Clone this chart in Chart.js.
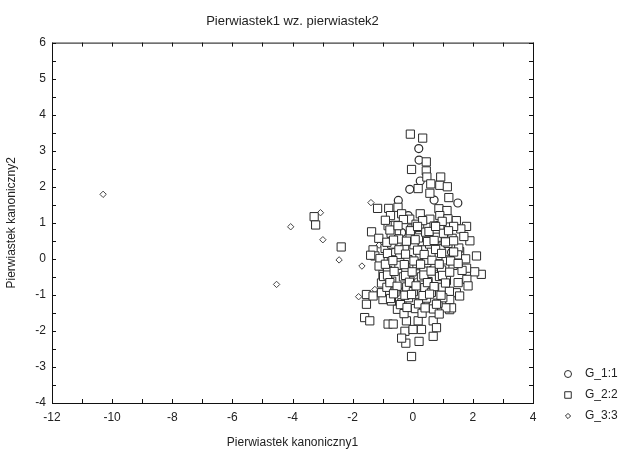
<!DOCTYPE html>
<html>
<head>
<meta charset="utf-8">
<script src="https://cdn.jsdelivr.net/npm/chart.js@4.4.1/dist/chart.umd.min.js"></script>
<style>
  html, body { margin: 0; padding: 0; background: #fff; }
  #wrap { width: 633px; height: 452px; }
</style>
</head>
<body>
<div id="wrap"><canvas id="scatterChart" width="633" height="452"></canvas></div>
<script>
// tick labels
var xTicks = [-12, -10, -8, -6, -4, -2, 0, 2, 4];
var yTicks = [-4, -3, -2, -1, 0, 1, 2, 3, 4, 5, 6];
var groupNames = ["G_1:1", "G_2:2", "G_3:3"];

// G_1 (circles)
var g1Points = [[0.2,3.06],[0.21,2.74],[0.25,2.16],[-0.1,1.93],[0.71,1.63],[1.5,1.55],[-0.48,1.62],
  [-0.37,0.73],[1.29,0.18],[0.05,0.42],[0.62,-0.32],[-0.28,-0.9],[0.92,0.55],[-0.62,0.18],
  [0.42,-1.22],[1.1,-0.6],[-0.15,1.2]];

// G_2 (squares)
var g2Points = [[-3.28,1.17],[-3.23,0.94],[-2.38,0.33],
  [-0.08,3.46],[0.33,3.35],[0.45,2.69],[-0.04,2.48],[0.45,2.44],[0.47,2.27],[0.93,2.27],[0.6,2.08],
  [0.9,2.04],[1.15,2.0],[0.18,1.95],[0.57,1.82],[1.2,1.7],[0.87,1.39],[1.14,1.34],[-1.17,1.4],
  [-0.8,1.4],[-0.49,1.43],[-0.74,1.2],[-0.37,1.25],[-0.1,1.1],[0.25,1.25],[0.57,1.1],[0.9,1.2],
  [1.17,1.11],[1.45,1.06],[1.79,0.9],[-1.37,0.75],[-0.82,0.92],[-0.54,0.78],[-0.04,0.83],[0.23,0.87],
  [0.9,0.92],[1.6,0.83],[1.9,0.5],[-1.32,0.25],[-1.26,0.08],[2.28,-0.43],[2.06,-0.36],[2.12,0.08],
  [1.79,-0.26],[1.8,-0.57],[1.51,-0.66],[1.45,-0.94],[1.23,-1.13],[1.23,-1.41],[1.84,-0.75],
  [1.56,-1.03],[1.29,-1.36],[1.1,-1.36],[1.56,0.2],[-1.54,-0.99],[-1.54,-1.26],[-1.6,-1.63],
  [-1.43,-1.72],[-0.82,-1.81],[-0.65,-1.81],[-0.99,-1.13],[-0.71,-1.17],[-0.21,-1.72],[0.18,-1.72],
  [-0.26,-2.01],[0.01,-1.96],[0.29,-1.96],[0.68,-1.72],[0.79,-1.91],[0.68,-2.15],[-0.23,-2.34],
  [0.21,-2.29],[-0.04,-2.71],[-0.37,-2.2],[-0.99,-0.43],[-1.04,-0.67],[-1.32,-1.03],[-1.04,-0.94],
  [-1.4,0.1],
  [-0.91,1.07],[-0.58,0.93],[-0.31,1.09],[0.11,0.96],[0.33,1.06],[0.71,0.91],[0.98,1.04],[1.36,0.9],
  [-1.13,0.57],[-0.72,0.71],[-0.47,0.55],[-0.09,0.69],[0.19,0.58],[0.43,0.74],[0.81,0.6],[1.02,0.71],
  [1.31,0.57],[1.7,0.62],
  [-0.92,0.29],[-0.7,0.41],[-0.27,0.27],[0.04,0.39],[0.35,0.25],[0.56,0.41],[0.94,0.28],[1.17,0.43],[1.53,0.3],
  [-1.09,0.01],[-0.71,-0.03],[-0.43,0.12],[-0.16,-0.02],[0.24,0.1],[0.47,-0.04],[0.88,0.09],[1.11,-0.03],
  [1.49,0.11],[1.76,0.0],
  [-1.12,-0.2],[-0.84,-0.32],[-0.46,-0.18],[-0.23,-0.31],[0.14,-0.19],[0.37,-0.34],[0.74,-0.2],[0.96,-0.31],
  [1.34,-0.18],[1.64,-0.32],
  [-0.97,-0.49],[-0.7,-0.62],[-0.31,-0.5],[-0.09,-0.61],[0.29,-0.5],[0.51,-0.63],[0.89,-0.49],[1.12,-0.6],
  [-0.86,-0.79],[-0.59,-0.92],[-0.2,-0.78],[0.02,-0.91],[0.4,-0.8],[0.62,-0.93],[1.0,-0.79],[1.22,-0.9],
  [-0.74,-1.1],[-0.36,-1.22],[-0.14,-1.08],[0.24,-1.21],[0.46,-1.09],[0.84,-1.23],[1.0,-1.08],
  [-0.51,-1.4],[-0.29,-1.52],[0.09,-1.38],[0.31,-1.51],[0.69,-1.39],[0.88,-1.53],
  [-0.76,0.8],[-0.49,0.92],[-0.08,0.78],[0.16,0.9],[0.54,0.76],[0.76,0.9],[1.19,0.78],
  [-0.86,0.46],[-0.64,0.52],[-0.21,0.49],[0.08,0.53],[0.49,0.48],[0.71,0.51],[1.09,0.47],[1.36,0.5],
  [-0.84,0.15],[-0.46,0.25],[-0.24,0.13],[0.16,0.24],[0.38,0.12],[0.76,0.26],[0.96,0.15],[1.36,0.19],
  [-0.91,-0.15],[-0.66,-0.05],[-0.28,-0.16],[0.04,-0.06],[0.26,-0.15],[0.64,-0.04],[0.88,-0.15],[1.26,-0.06],[1.51,-0.13],
  [-0.84,-0.45],[-0.62,-0.35],[-0.24,-0.46],[-0.02,-0.36],[0.37,-0.45],[0.61,-0.34],[0.99,-0.46],[1.23,-0.37],
  [-0.76,-0.66],[-0.52,-0.76],[-0.11,-0.65],[0.11,-0.75],[0.49,-0.66],[0.71,-0.77],[1.09,-0.67],
  [-0.64,-0.97],[-0.26,-1.01],[-0.04,-0.99],[0.34,-1.02],[0.56,-0.98],[0.94,-1.01],
  [-0.41,-1.27],[-0.19,-1.35],[0.19,-1.25],[0.41,-1.36],[0.79,-1.26]];

// G_3 (diamonds)
var g3Points = [[-10.3,1.79],[-4.06,0.89],[-3.07,1.28],[-2.99,0.53],[-2.45,-0.03],[-4.53,-0.71],
  [-1.39,1.56],[-1.12,0.38],[-1.69,-0.2],[-1.26,-0.85],[-1.8,-1.05],[-0.62,-0.35],[0.12,-0.62],[-0.9,0.45]];

function toXY(list) {
    var out = [];
    for (var i = 0; i < list.length; i++) {
        out.push({x: list[i][0], y: list[i][1]});
    }
    return out;
}

var inkColor = "#2b2b2b";
var fontFamily = "'Liberation Sans', Arial, sans-serif";

// full box + inward ticks, like the original graph frame
var framePlugin = {
    id: 'frame',
    beforeDatasetsDraw: function(chart) {
        var ctx = chart.ctx, a = chart.chartArea;
        var xs = chart.scales.x, ys = chart.scales.y;
        ctx.save();
        ctx.strokeStyle = "#111";
        ctx.lineWidth = 1;
        ctx.strokeRect(a.left + 0.5, a.top + 0.5, a.right - a.left, a.bottom - a.top);
        ctx.beginPath();
        for (var v = xs.min; v <= xs.max; v += 1) {
            var px = Math.round(xs.getPixelForValue(v)) + 0.5;
            ctx.moveTo(px, a.bottom); ctx.lineTo(px, a.bottom - 4);
            ctx.moveTo(px, a.top); ctx.lineTo(px, a.top + 4);
        }
        for (var w = ys.min; w <= ys.max; w += 0.5) {
            var py = Math.round(ys.getPixelForValue(w)) + 0.5;
            ctx.moveTo(a.left, py); ctx.lineTo(a.left + 4, py);
            ctx.moveTo(a.right, py); ctx.lineTo(a.right - 4, py);
        }
        ctx.stroke();
        ctx.restore();
    }
};

// legend drawn to the right, bottom aligned with the plot
var legendStyles = { "G_1:1": ['circle', 3.5], "G_2:2": ['rect', 4.6], "G_3:3": ['rectRot', 2.6] };
var legendPlugin = {
    id: 'sideLegend',
    afterDraw: function(chart) {
        var ctx = chart.ctx, a = chart.chartArea;
        var rows = [a.bottom - 29, a.bottom - 8, a.bottom + 13];
        ctx.save();
        groupNames.forEach(function(name, i) {
            var st = legendStyles[name];
            ctx.strokeStyle = inkColor;
            ctx.fillStyle = "#fff";
            ctx.lineWidth = 1;
            Chart.helpers.drawPoint(ctx, {pointStyle: st[0], radius: st[1], borderWidth: 1, rotation: 0},
                a.right + 35, rows[i]);
            ctx.fillStyle = "#222";
            ctx.font = "12px " + fontFamily;
            ctx.textBaseline = "middle";
            ctx.fillText(name, a.right + 52, rows[i]);
        });
        ctx.restore();
    }
};

var ctxS = document.getElementById("scatterChart");
var chart = new Chart(ctxS, {
    type: 'scatter',
    data: {
        datasets: [
            {
                label: groupNames[1],
                data: toXY(g2Points),
                pointStyle: 'rect',
                pointRadius: 5.8,
                borderColor: inkColor,
                backgroundColor: "#fff",
                borderWidth: 1
            },
            {
                label: groupNames[0],
                data: toXY(g1Points),
                pointStyle: 'circle',
                pointRadius: 4,
                borderColor: inkColor,
                backgroundColor: "#fff",
                borderWidth: 1.2
            },
            {
                label: groupNames[2],
                data: toXY(g3Points),
                pointStyle: 'rectRot',
                pointRadius: 3.2,
                borderColor: "#444",
                backgroundColor: "#fff",
                borderWidth: 1
            }
        ]
    },
    options: {
        responsive: false,
        animation: false,
        layout: { padding: { left: 0, right: 100, top: 0, bottom: 0 } },
        plugins: {
            legend: { display: false },
            tooltip: { enabled: false },
            title: {
                display: true,
                text: "Pierwiastek1 wz. pierwiastek2",
                fullSize: false,
                color: "#222",
                font: { family: fontFamily, size: 13, weight: 'normal' },
                padding: { top: 14, bottom: 13 }
            }
        },
        scales: {
            x: {
                type: 'linear',
                min: -12, max: 4,
                afterBuildTicks: function(scale) {
                    scale.ticks = xTicks.map(function(v) { return {value: v}; });
                },
                afterFit: function(scale) { scale.height = 49; },
                grid: { display: false, drawTicks: false },
                border: { display: false },
                ticks: { color: "#222", padding: 7, font: { family: fontFamily, size: 12 } },
                title: {
                    display: true,
                    text: "Pierwiastek kanoniczny1",
                    color: "#222",
                    font: { family: fontFamily, size: 12 },
                    padding: { top: 4, bottom: 2 }
                }
            },
            y: {
                type: 'linear',
                min: -4, max: 6,
                afterBuildTicks: function(scale) {
                    scale.ticks = yTicks.map(function(v) { return {value: v}; });
                },
                afterFit: function(scale) { scale.width = 52; },
                grid: { display: false, drawTicks: false },
                border: { display: false },
                ticks: { color: "#222", padding: 6, font: { family: fontFamily, size: 12 } },
                title: {
                    display: true,
                    text: "Pierwiastek kanoniczny2",
                    color: "#222",
                    font: { family: fontFamily, size: 12 },
                    padding: { top: 4, bottom: 2 }
                }
            }
        }
    },
    plugins: [framePlugin, legendPlugin]
});
</script>
</body>
</html>
